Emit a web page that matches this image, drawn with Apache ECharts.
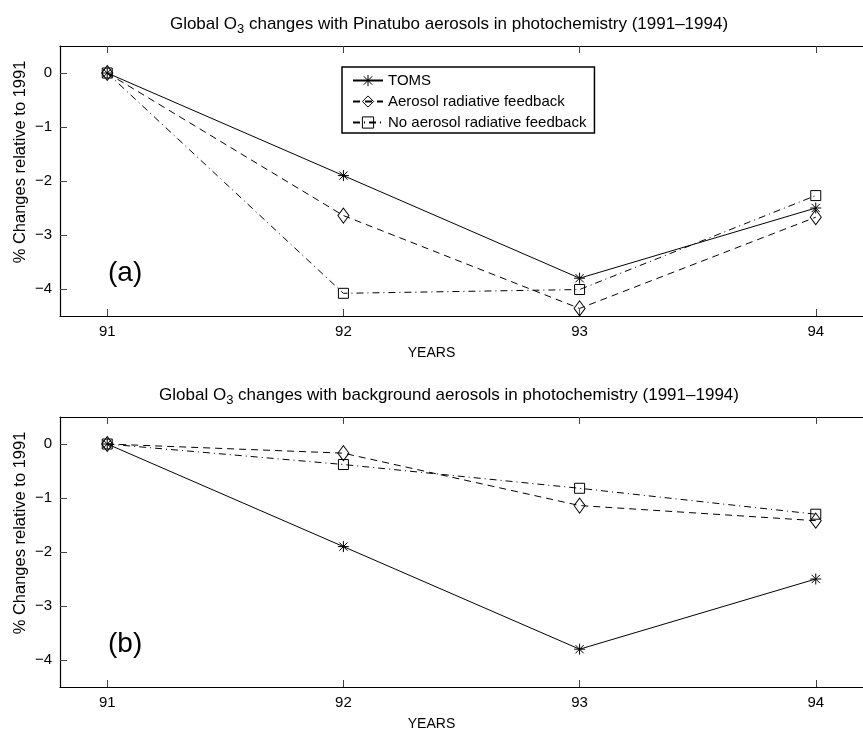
<!DOCTYPE html>
<html>
<head>
<meta charset="utf-8">
<script src="https://cdn.jsdelivr.net/npm/echarts@6/dist/echarts.min.js"></script>
<style>
  html, body { margin: 0; padding: 0; background: #fff; }
  #chart { width: 863px; height: 734px; }
</style>
</head>
<body>
<div id="chart"></div>
<script>
// Years (x ticks) and % ozone change relative to 1991
const years = [91, 92, 93, 94];
const yTicks = [-4, -3, -2, -1, 0];

// Panel (a): Pinatubo aerosols in photochemistry
const tomsA = [0, -1.9, -3.8, -2.5];
const radFeedbackA = [0, -2.64, -4.36, -2.67];
const noRadFeedbackA = [0, -4.08, -4.01, -2.27];

// Panel (b): background aerosols in photochemistry
const tomsB = [0, -1.9, -3.8, -2.5];
const radFeedbackB = [0, -0.17, -1.14, -1.42];
const noRadFeedbackB = [0, -0.38, -0.82, -1.30];

const seriesNames = ['TOMS', 'Aerosol radiative feedback', 'No aerosol radiative feedback'];

const FONT = 'Liberation Sans, Arial, Helvetica, sans-serif';
const STAR = 'path://M0 -10 L0 10 M-10 0 L10 0 M-7.5 -7.5 L7.5 7.5 M-7.5 7.5 L7.5 -7.5';

const pairs = (ys) => years.map((x, i) => [x, ys[i]]);
const minusFmt = (v) => (v < 0 ? '\u2212' + Math.abs(v) : String(v));

const grids = [
  { left: 60, top: 46, width: 814, height: 270 },
  { left: 60, top: 417, width: 814, height: 270 }
];

function xAxes(gi) {
  const base = {
    gridIndex: gi, type: 'value', min: 90.8, max: 94.2,
    axisLine: { show: true, onZero: false, lineStyle: { color: '#000', width: 1.2 } },
    axisTick: { show: true, inside: true, length: 7, customValues: years, lineStyle: { color: '#444' } },
    splitLine: { show: false }
  };
  return [
    Object.assign({}, base, {
      position: 'bottom',
      axisLabel: { customValues: years, color: '#000', fontSize: 15, fontFamily: FONT, margin: 8 }
    }),
    Object.assign({}, base, { position: 'top', axisLabel: { show: false } })
  ];
}

function yAxis(gi) {
  return {
    gridIndex: gi, type: 'value', min: -4.5, max: 0.5,
    axisLine: { show: true, onZero: false, lineStyle: { color: '#000', width: 1.2 } },
    axisTick: { show: true, inside: true, length: 7, customValues: yTicks, lineStyle: { color: '#444' } },
    axisLabel: { customValues: yTicks, formatter: minusFmt, color: '#000', fontSize: 15, fontFamily: FONT, margin: 8 },
    splitLine: { show: false }
  };
}

function panelSeries(gi, toms, rad, noRad) {
  const common = {
    type: 'line', xAxisIndex: gi * 2, yAxisIndex: gi,
    showSymbol: true, showAllSymbol: true, animation: false, z: 3
  };
  return [
    Object.assign({}, common, {
      name: seriesNames[0], data: pairs(toms),
      symbol: STAR, symbolSize: 11,
      lineStyle: { color: '#000', width: 1, type: 'solid' },
      itemStyle: { color: '#000', borderColor: '#000', borderWidth: 1 }
    }),
    Object.assign({}, common, {
      name: seriesNames[1], data: pairs(rad),
      symbol: 'diamond', symbolSize: [11, 15],
      lineStyle: { color: '#000', width: 1, type: [7, 5] },
      itemStyle: { color: 'rgba(0,0,0,0)', borderColor: '#000', borderWidth: 1 }
    }),
    Object.assign({}, common, {
      name: seriesNames[2], data: pairs(noRad),
      symbol: 'rect', symbolSize: 10,
      lineStyle: { color: '#000', width: 1, type: [7, 4, 1, 4] },
      itemStyle: { color: 'rgba(0,0,0,0)', borderColor: '#000', borderWidth: 1 }
    })
  ];
}

const titleRich = {
  sub: { fontSize: 13, fontWeight: 'normal', fontFamily: FONT, color: '#000', padding: [10, 0, 0, 0] },
  n: { fontSize: 17, fontWeight: 'normal', fontFamily: FONT, color: '#000' }
};

const chart = echarts.init(document.getElementById('chart'), null, { renderer: 'canvas' });
chart.setOption({
  animation: false,
  backgroundColor: '#fff',
  title: [
    {
      text: '{n|Global O}{sub|3}{n| changes with Pinatubo aerosols in photochemistry (1991\u20131994)}',
      left: 444, textAlign: 'center', top: 8, textStyle: { fontWeight: 'normal', rich: titleRich }
    },
    {
      text: '{n|Global O}{sub|3}{n| changes with background aerosols in photochemistry (1991\u20131994)}',
      left: 444, textAlign: 'center', top: 379, textStyle: { fontWeight: 'normal', rich: titleRich }
    }
  ],
  grid: grids,
  xAxis: [...xAxes(0), ...xAxes(1)],
  yAxis: [yAxis(0), yAxis(1)],
  legend: {
    data: seriesNames,
    orient: 'vertical',
    left: 342, top: 67,
    itemWidth: 30, itemHeight: 14, itemGap: 6,
    padding: [6, 8, 3, 10],
    borderColor: '#000', borderWidth: 1.5,
    backgroundColor: '#fff',
    itemStyle: { borderWidth: 1 },
    textStyle: { fontSize: 15, fontFamily: FONT, color: '#000' },
    selectedMode: false
  },
  graphic: [
    { type: 'text', left: 108, top: 259, style: { text: '(a)', font: '28px ' + FONT, fill: '#000' } },
    { type: 'text', left: 108, top: 630, style: { text: '(b)', font: '28px ' + FONT, fill: '#000' } },
    { type: 'text', left: 'center', top: 346, style: { text: 'YEARS', font: '14px ' + FONT, fill: '#000' } },
    { type: 'text', left: 'center', top: 717, style: { text: 'YEARS', font: '14px ' + FONT, fill: '#000' } },
    { type: 'text', x: 20, y: 162, rotation: Math.PI / 2,
      style: { text: '% Changes relative to 1991', font: '16.5px ' + FONT, fill: '#000', align: 'center', verticalAlign: 'middle' } },
    { type: 'text', x: 20, y: 533, rotation: Math.PI / 2,
      style: { text: '% Changes relative to 1991', font: '16.5px ' + FONT, fill: '#000', align: 'center', verticalAlign: 'middle' } }
  ],
  series: [
    ...panelSeries(0, tomsA, radFeedbackA, noRadFeedbackA),
    ...panelSeries(1, tomsB, radFeedbackB, noRadFeedbackB)
  ]
});
</script>
</body>
</html>
